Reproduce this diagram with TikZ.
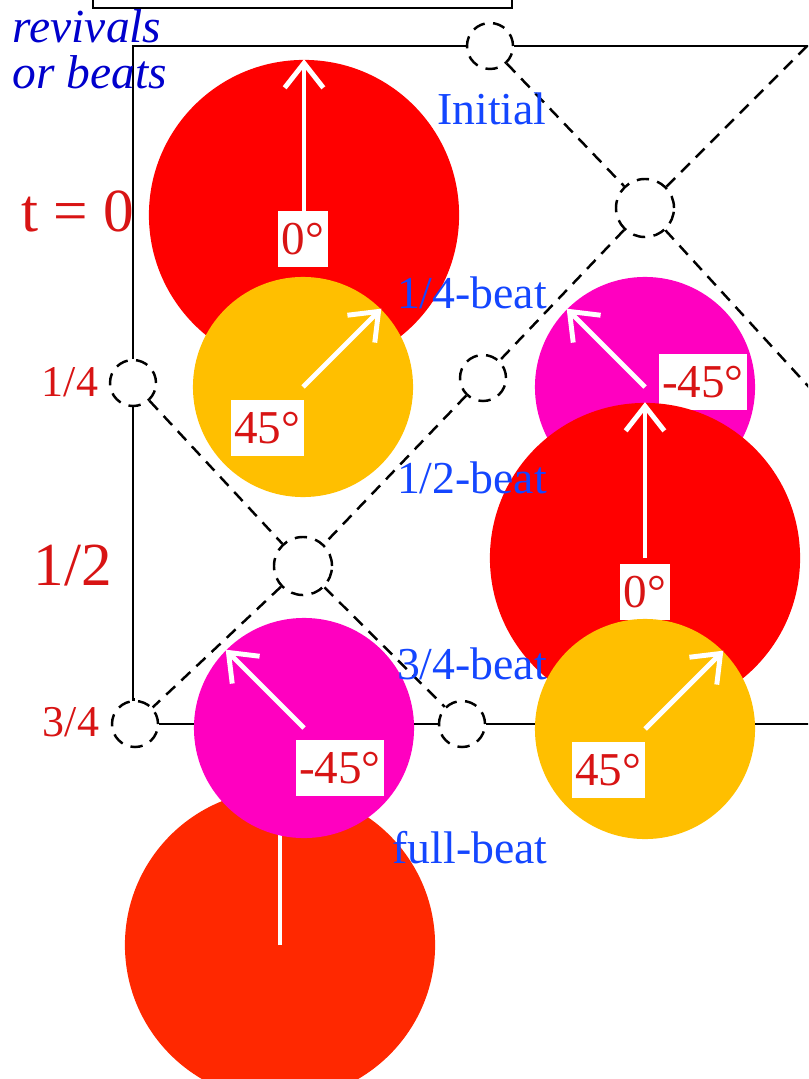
\documentclass[tikz,border=0pt]{standalone}
\usepackage{fontspec}
\setmainfont{Liberation Serif}
\usetikzlibrary{arrows.meta}
\definecolor{discred}{HTML}{FF0000}
\definecolor{discamber}{HTML}{FFBF00}
\definecolor{discmag}{HTML}{FF00C0}
\definecolor{discorange}{HTML}{FF2800}
\definecolor{labred}{HTML}{D81414}
\definecolor{labblue}{HTML}{1446FF}
\definecolor{darkblue}{HTML}{0000CC}
\tikzstyle{disc} = [circle, draw=none, inner sep=0pt]
\tikzstyle{bigdisc} = [disc, minimum size=3.1cm]
\tikzstyle{smalldisc} = [disc, minimum size=2.2cm]
\tikzstyle{lattice} = [line width=0.7pt, dash pattern=on 3.5pt off 2.4pt]
\tikzstyle{knot} = [circle, draw=black, lattice, inner sep=0pt, minimum size=0.46cm]
\tikzstyle{bigknot} = [knot, minimum size=0.58cm]
\tikzstyle{frameline} = [line width=0.72pt]
\tikzstyle{vec} = [white, line width=1.4pt, -{Straight Barb[length=7pt, width=11pt, line width=1.4pt]}]
\tikzstyle{degbox} = [fill=white, text=labred, inner xsep=1pt, minimum height=0.51cm, font=\fontsize{13.4}{14}\selectfont]
\tikzstyle{beat} = [text=labblue, inner sep=0pt, font=\fontsize{13}{15}\selectfont]
\tikzstyle{timelab} = [text=labred, inner sep=0pt, font=\fontsize{12.5}{14}\selectfont]
\tikzstyle{bigtime} = [text=labred, inner sep=0pt, font=\fontsize{17.4}{19}\selectfont]

\begin{document}
\begin{tikzpicture}[x=0.01cm, y=-0.01cm]
  \useasboundingbox (0,0) rectangle (808,1079);
  \clip (0,0) rectangle (808,1079);

  % frames and knots
  \draw[frameline] (93,-10) -- (93,8) -- (512,8) -- (512,-10);
  \node[knot] (ka) at (490,46) {};
  \node[bigknot] (kb) at (645,208) {};
  \node[knot] (kc) at (133,383) {};
  \node[knot] (kd) at (483,378) {};
  \node[bigknot] (ke) at (303,566) {};
  \node[knot] (kf) at (135,724) {};
  \node[knot] (kg) at (462,724) {};
  \coordinate (corner) at (133,46);
  \coordinate (topout) at (830,46);
  \coordinate (botout) at (830,724);
  \coordinate (upout) at (830,23);
  \coordinate (downout) at (830,410);

  \draw[frameline] (ka.west) -- (corner) -- (kc.north);
  \draw[frameline] (ka.east) -- (topout);
  \draw[frameline] (kc.south) -- (kc.south |- kf.north) -- (kf.north);
  \draw[frameline] (kf.east) -- (kg.west);
  \draw[frameline] (kg.east) -- (botout);

  \draw[lattice] (ka) -- (kb);
  \draw[lattice] (kb) -- (upout);
  \draw[lattice] (kb) -- (downout);
  \draw[lattice] (kb) -- (kd);
  \draw[lattice] (kc) -- (ke);
  \draw[lattice] (kd) -- (ke);
  \draw[lattice] (ke) -- (kf);
  \draw[lattice] (ke) -- (kg);

  % left column
  \node[bigdisc, fill=discred] (red0) at (304,215) {};
  \draw[vec] (red0.center) -- (red0.north);
  \node[degbox] (d0) at (303,239) {0°};
  \node[smalldisc, fill=discamber] (amb1) at (303,387) {};
  \draw[vec] (amb1.center) -- (amb1.north east);
  \node[degbox] (d1) at (267,428) {45°};

  % right column
  \node[smalldisc, fill=discmag] (mag1) at (645,387) {};
  \draw[vec] (mag1.center) -- (mag1.north west);
  \node[degbox] (d2) at (703,382) {-45°};
  \node[bigdisc, fill=discred] (red2) at (645,558) {};
  \draw[vec] (red2.center) -- (red2.north);
  \node[degbox] (d3) at (645,592) {0°};
  \node[smalldisc, fill=discamber] (amb3) at (645,729) {};
  \draw[vec] (amb3.center) -- (amb3.north east);
  \node[degbox] (d4) at (608,770) {45°};

  % bottom
  \node[bigdisc, fill=discorange] (red4) at (280,945) {};
  \draw[vec] (red4.center) -- (red4.north);
  \node[smalldisc, fill=discmag] (mag3) at (304,728) {};
  \draw[vec] (mag3.center) -- (mag3.north west);
  \node[degbox] (d5) at (340,768) {-45°};

  % labels
  \node[text=darkblue, inner sep=0pt, align=left, font=\fontsize{13.5}{13.1}\selectfont\itshape] (rev) at (90,49) {revivals\\or beats};
  \node[beat] (init) at (492,109) {Initial};
  \node[beat] (b1) at (472,293) {1/4-beat};
  \node[beat] (b2) at (472,478) {1/2-beat};
  \node[beat] (b3) at (472,664) {3/4-beat};
  \node[beat] (b4) at (470,848) {full-beat};
  \node[bigtime] (t0) at (78,211) {t = 0};
  \node[timelab] (t1) at (70,382) {1/4};
  \node[bigtime] (t2) at (73,566) {1/2};
  \node[timelab] (t3) at (71,722) {3/4};
\end{tikzpicture}
\end{document}
